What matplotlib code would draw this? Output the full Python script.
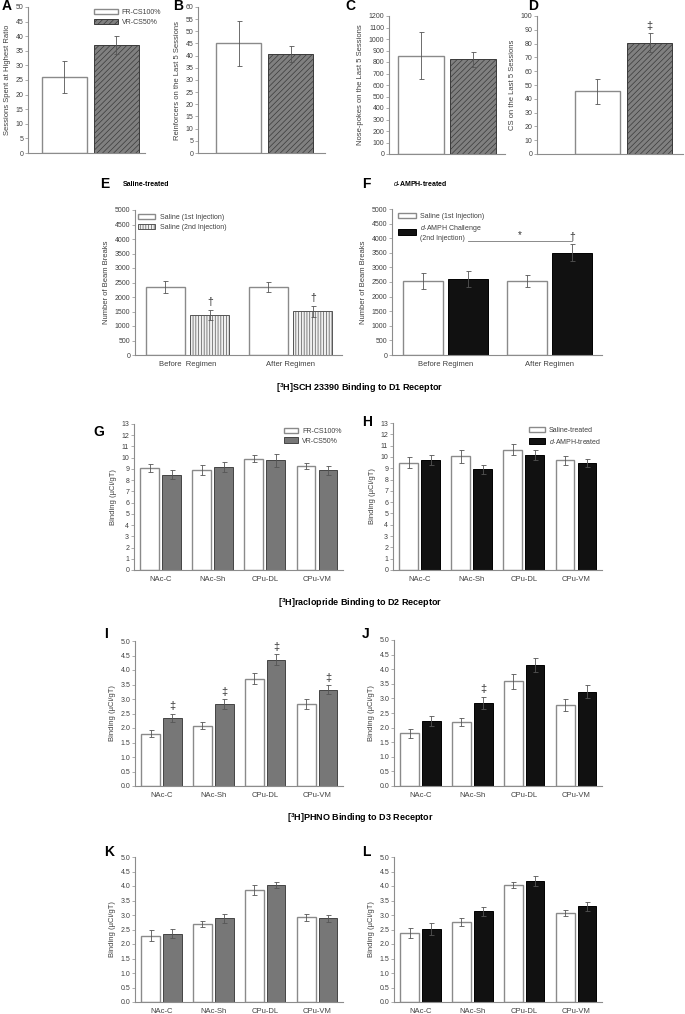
import matplotlib
matplotlib.use("Agg")
import matplotlib.pyplot as plt
import numpy as np
from matplotlib.patches import Patch

plt.rcParams["font.family"] = ["Liberation Sans", "DejaVu Sans"]
plt.rcParams["hatch.linewidth"] = 0.5
plt.rcParams["mathtext.fontset"] = "custom"
plt.rcParams["mathtext.rm"] = "Liberation Sans"
plt.rcParams["mathtext.it"] = "Liberation Sans:italic"
plt.rcParams["mathtext.bf"] = "Liberation Sans:bold"

# ---- data ----
sched_labels = ["FR-CS100%", "VR-CS50%"]
a_mean, a_err = [26, 37], [5.5, 3.0]
b_mean, b_err = [45, 40.5], [9.3, 3.3]
c_mean, c_err = [855, 825], [207, 65]
d_mean, d_err = [45.3, 80.7], [9.3, 6.7]

regimen = ["Before  Regimen", "After Regimen"]
e_sal1, e_sal1_err = [2350, 2355], [205, 175]
e_sal2, e_sal2_err = [1390, 1510], [175, 190]
f_sal1, f_sal1_err = [2545, 2520], [270, 205]
f_amph, f_amph_err = [2605, 3510], [260, 285]

regions = ["NAc-C", "NAc-Sh", "CPu-DL", "CPu-VM"]
g_fr, g_fr_err = [9.1, 8.9, 9.9, 9.25], [0.35, 0.45, 0.3, 0.3]
g_vr, g_vr_err = [8.5, 9.2, 9.75, 8.9], [0.4, 0.45, 0.55, 0.4]
h_sal, h_sal_err = [9.5, 10.05, 10.65, 9.7], [0.45, 0.55, 0.45, 0.4]
h_amph, h_amph_err = [9.75, 8.9, 10.2, 9.45], [0.45, 0.4, 0.45, 0.33]
i_fr, i_fr_err = [1.8, 2.08, 3.7, 2.83], [0.12, 0.13, 0.18, 0.16]
i_vr, i_vr_err = [2.36, 2.83, 4.36, 3.32], [0.14, 0.17, 0.19, 0.16]
j_sal, j_sal_err = [1.8, 2.2, 3.58, 2.78], [0.16, 0.13, 0.25, 0.21]
j_amph, j_amph_err = [2.23, 2.85, 4.15, 3.23], [0.17, 0.21, 0.23, 0.23]
k_fr, k_fr_err = [2.29, 2.7, 3.87, 2.92], [0.18, 0.1, 0.17, 0.12]
k_vr, k_vr_err = [2.36, 2.88, 4.04, 2.88], [0.17, 0.17, 0.11, 0.11]
l_sal, l_sal_err = [2.38, 2.75, 4.03, 3.07], [0.16, 0.13, 0.11, 0.11]
l_amph, l_amph_err = [2.51, 3.13, 4.17, 3.3], [0.2, 0.15, 0.17, 0.15]

# significance marks (index of bar in second series)
d_sig = [1]
e_sig = [0, 1]
f_sig = [1]
i_sig = [0, 1, 2, 3]
j_sig = [1]
f_bracket_y = 3890

W, H = 685, 1014
fig = plt.figure(figsize=(W / 100, H / 100), dpi=100)

GRID = "#8c8c8c"
TXT = "#404040"
white_st = dict(facecolor="white", edgecolor="#8a8a8a", linewidth=1.0)
hatch_st = dict(facecolor="#808080", edgecolor="#3a3a3a", linewidth=0.7, hatch="//////")
vline_st = dict(facecolor="#f0f0f0", edgecolor="#555555", linewidth=0.7, hatch="||||||")
gray_st = dict(facecolor="#777777", edgecolor="#444444", linewidth=0.7)
black_st = dict(facecolor="#111111", edgecolor="#000000", linewidth=0.7)
ekw = dict(ecolor="#555555", elinewidth=0.6, capsize=1.8, capthick=0.6)


def add_ax(x0, x1, y0, y1):
    ax = fig.add_axes([x0 / W, 1 - y1 / H, (x1 - x0) / W, (y1 - y0) / H])
    for s in ["top", "right"]:
        ax.spines[s].set_visible(False)
    for s in ["left", "bottom"]:
        ax.spines[s].set_color(GRID)
        ax.spines[s].set_linewidth(0.8)
    ax.tick_params(axis="y", length=2, width=0.5, color=GRID, labelsize=5,
                   labelcolor=TXT, pad=1.5)
    ax.tick_params(axis="x", length=0, labelsize=5.5, labelcolor=TXT, pad=4)
    return ax


def legend_at(ax, handles, labels, xp, yp, hl):
    ax.legend(handles, labels, loc="upper left",
              bbox_to_anchor=(xp / W, 1 - yp / H), bbox_transform=fig.transFigure,
              frameon=False, fontsize=5, handlelength=hl, handleheight=0.8,
              handletextpad=0.6, labelspacing=0.35, borderpad=0, borderaxespad=0,
              labelcolor=TXT)


def sig(ax, x, top, sym, size=7.5):
    ax.text(x, top, sym, ha="center", va="bottom", fontsize=size, color="#333333")


def letter(xp, yp, s):
    fig.text(xp / W, 1 - yp / H, s, fontsize=10, fontweight="bold", va="center")


# ---- top row A-D ----
def two_bar(ax, mean, err, ylim, step, ylabel, xlim, marks=()):
    x = np.arange(2)
    ax.bar(x[0], mean[0], 0.87, yerr=err[0], error_kw=ekw, **white_st)
    ax.bar(x[1], mean[1], 0.87, yerr=err[1], error_kw=ekw, **hatch_st)
    ax.set_ylim(0, ylim)
    ax.set_yticks(np.arange(0, ylim + step / 2, step))
    ax.set_xlim(*xlim)
    ax.set_xticks([])
    ax.set_ylabel(ylabel, fontsize=5.5, color=TXT, labelpad=3)
    for i in marks:
        sig(ax, x[i], mean[i] + err[i] + ylim * 0.02, "\u2021", 8)


axA = add_ax(28, 145, 7, 153)
two_bar(axA, a_mean, a_err, 50, 5, "Sessions Spent at Highest Ratio", (-0.70, 1.55))
legend_at(axA, [Patch(**white_st), Patch(**hatch_st)], sched_labels, 94, 9, 3.4)
axB = add_ax(198, 325, 7, 153)
two_bar(axB, b_mean, b_err, 60, 5, "Reinforcers on the Last 5 Sessions", (-0.78, 1.66))
axC = add_ax(389, 505, 16, 154)
two_bar(axC, c_mean, c_err, 1200, 100, "Nose-pokes on the Last 5 Sessions", (-0.6, 1.6))
axD = add_ax(537, 683, 16, 154)
two_bar(axD, d_mean, d_err, 100, 10, "CS on the Last 5 Sessions", (-1.16, 1.64), d_sig)

letter(2, 6, "A")
letter(173, 6, "B")
letter(345, 6, "C")
letter(528, 6, "D")

# ---- E / F ----
def grouped(ax, cats, m1, e1, m2, e2, st1, st2, off, wid, ylim, step, fmt=None):
    x = np.arange(len(cats))
    ax.bar(x - off, m1, wid, yerr=e1, error_kw=ekw, **st1)
    ax.bar(x + off, m2, wid, yerr=e2, error_kw=ekw, **st2)
    ax.set_xticks(x, cats)
    ax.set_xlim(-0.51, len(cats) - 0.5)
    ax.set_ylim(0, ylim)
    ticks = np.arange(0, ylim + step / 2, step)
    if fmt:
        ax.set_yticks(ticks, [fmt % t for t in ticks])
    else:
        ax.set_yticks(ticks)
    return x


axE = add_ax(135, 342, 210, 355)
xe = grouped(axE, regimen, e_sal1, e_sal1_err, e_sal2, e_sal2_err, white_st, vline_st,
             0.216, 0.38, 5000, 500)
axE.set_ylabel("Number of Beam Breaks", fontsize=5.5, color=TXT, labelpad=3)
for i in e_sig:
    sig(axE, xe[i] + 0.216, e_sal2[i] + e_sal2_err[i] + 80, "\u2020")
legend_at(axE, [Patch(**white_st), Patch(**vline_st)],
          ["Saline (1st Injection)", "Saline (2nd Injection)"], 138, 214, 2.5)

axF = add_ax(392, 602, 209, 355)
xf = grouped(axF, ["Before Regimen", "After Regimen"], f_sal1, f_sal1_err, f_amph, f_amph_err,
             white_st, black_st, 0.216, 0.38, 5000, 500)
axF.set_ylabel("Number of Beam Breaks", fontsize=5.5, color=TXT, labelpad=3)
for i in f_sig:
    sig(axF, xf[i] + 0.216, f_amph[i] + f_amph_err[i] + 60, "\u2020")
axF.plot([xf[0] + 0.216, xf[1] + 0.216], [f_bracket_y, f_bracket_y], color="#777777", lw=0.6)
axF.text((xf[0] + xf[1]) / 2 + 0.216, f_bracket_y + 60, "*", ha="center", va="bottom",
         fontsize=7, color="#333333")
legend_at(axF, [Patch(**white_st), Patch(**black_st)],
          ["Saline (1st Injection)", "$\\mathit{d}$-AMPH Challenge\n(2nd Injection)"],
          398, 213, 2.6)

letter(100, 184, "E")
fig.text(123 / W, 1 - 184 / H, "Saline-treated", fontsize=5, fontweight="bold", va="center")
letter(362, 184, "F")
fig.text(393 / W, 1 - 184 / H, "$\\mathit{d}$-AMPH-treated", fontsize=5, fontweight="bold",
         va="center")

# ---- receptor titles ----
fig.text(360 / W, 1 - 388 / H, "[$^{\\mathbf{3}}$H]SCH 23390 Binding to D1 Receptor",
         ha="center", va="center", fontsize=6.5, fontweight="bold")
fig.text(360 / W, 1 - 603 / H, "[$^{\\mathbf{3}}$H]raclopride Binding to D2 Receptor",
         ha="center", va="center", fontsize=6.5, fontweight="bold")
fig.text(360 / W, 1 - 818 / H, "[$^{\\mathbf{3}}$H]PHNO Binding to D3 Receptor",
         ha="center", va="center", fontsize=6.5, fontweight="bold")

BIND = "Binding (\u00b5Ci/gT)"

# ---- G / H ----
axG = add_ax(134, 343, 424, 570)
grouped(axG, regions, g_fr, g_fr_err, g_vr, g_vr_err, white_st, gray_st, 0.21, 0.36, 13, 1)
axG.set_ylabel(BIND, fontsize=5.5, color=TXT, labelpad=3)
legend_at(axG, [Patch(**white_st), Patch(**gray_st)], sched_labels, 284, 428, 2.0)
axH = add_ax(393, 602, 423, 570)
grouped(axH, regions, h_sal, h_sal_err, h_amph, h_amph_err, white_st, black_st, 0.21, 0.36, 13, 1)
axH.set_ylabel(BIND, fontsize=5.5, color=TXT, labelpad=3)
legend_at(axH, [Patch(**white_st), Patch(**black_st)],
          ["Saline-treated", "$\\mathit{d}$-AMPH-treated"], 529, 427, 2.3)
letter(93, 432, "G")
letter(362, 422, "H")

# ---- I / J ----
axI = add_ax(135, 343, 641, 786)
xi = grouped(axI, regions, i_fr, i_fr_err, i_vr, i_vr_err, white_st, gray_st, 0.21, 0.36, 5, 0.5, "%.1f")
axI.set_ylabel(BIND, fontsize=5.5, color=TXT, labelpad=3)
for i in i_sig:
    sig(axI, xi[i] + 0.21, i_vr[i] + i_vr_err[i] + 0.08, "\u2021", 8)
axJ = add_ax(394, 602, 640, 786)
xj = grouped(axJ, regions, j_sal, j_sal_err, j_amph, j_amph_err, white_st, black_st, 0.21, 0.36, 5, 0.5, "%.1f")
axJ.set_ylabel(BIND, fontsize=5.5, color=TXT, labelpad=3)
for i in j_sig:
    sig(axJ, xj[i] + 0.21, j_amph[i] + j_amph_err[i] + 0.08, "\u2021", 8)
letter(104, 634, "I")
letter(362, 634, "J")

# ---- K / L ----
axK = add_ax(135, 343, 857, 1002)
grouped(axK, regions, k_fr, k_fr_err, k_vr, k_vr_err, white_st, gray_st, 0.21, 0.36, 5, 0.5, "%.1f")
axK.set_ylabel(BIND, fontsize=5.5, color=TXT, labelpad=3)
axL = add_ax(394, 602, 857, 1002)
grouped(axL, regions, l_sal, l_sal_err, l_amph, l_amph_err, white_st, black_st, 0.21, 0.36, 5, 0.5, "%.1f")
axL.set_ylabel(BIND, fontsize=5.5, color=TXT, labelpad=3)
letter(104, 852, "K")
letter(362, 852, "L")

fig.savefig("out.png", dpi=100)
